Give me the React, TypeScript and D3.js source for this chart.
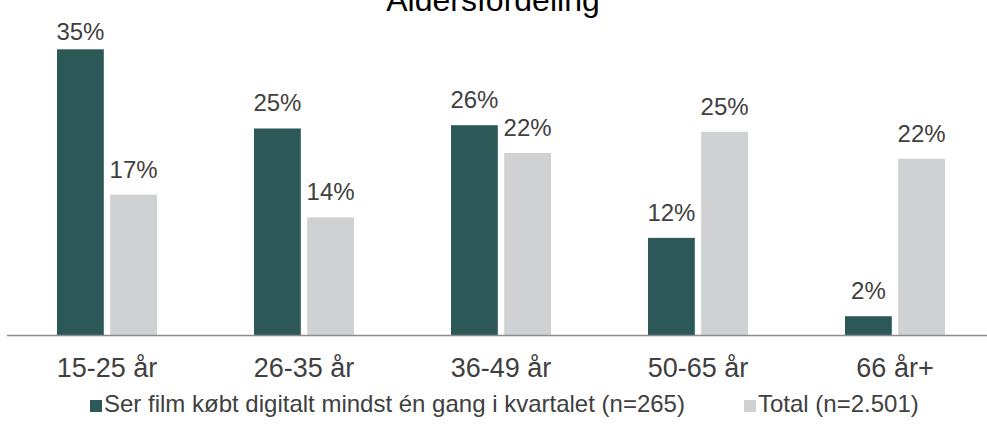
import React from "react";
import * as d3 from "d3";

const title = "Aldersfordeling";
const categories = ["15-25 år", "26-35 år", "36-49 år", "50-65 år", "66 år+"];
const seriesNames = ["Ser film købt digitalt mindst én gang i kvartalet (n=265)", "Total (n=2.501)"];
const digitalValues = [35.0, 25.3, 25.7, 11.9, 2.3];
const totalValues = [17.2, 14.4, 22.3, 24.9, 21.6];
const colors = ["#2C5858", "#D0D1D3"];

const W = 987;
const H = 433;
const FONT = "'Liberation Sans', Arial, sans-serif";

export default function App() {
  const baseY = 335;
  const x = d3.scaleBand<string>().domain(categories).range([8.5, 993.5]).padding(0);
  const y = d3.scaleLinear().domain([0, 40]).range([baseY, 8.5]);
  const inner = d3.scaleBand<number>().domain([0, 1]).range([-50, 50]).paddingInner(0.12);
  const series = [digitalValues, totalValues];
  const fmt = (v: number) => `${Math.round(v)}%`;

  const legendItems = [
    { x: 90, name: seriesNames[0], color: colors[0] },
    { x: 744, name: seriesNames[1], color: colors[1] },
  ];

  return (
    <svg width={W} height={H} style={{ position: "absolute", left: 0, top: 0, display: "block" }}>
      <rect width={W} height={H} fill="#fff" />
      <text x={493} y={10.5} textAnchor="middle" fontFamily={FONT} fontSize={32} fill="#000">
        {title}
      </text>
      {categories.map((c, i) => {
        const cx = (x(c) as number) + x.bandwidth() / 2;
        return (
          <g key={c}>
            {series.map((vals, s) => {
              const v = vals[i];
              const bx = cx + (inner(s) as number);
              const top = y(v);
              return (
                <g key={s}>
                  <rect x={bx} y={top} width={inner.bandwidth()} height={baseY - top} fill={colors[s]} />
                  <text
                    x={bx + inner.bandwidth() / 2}
                    y={Math.max(top - 17, 40)}
                    textAnchor="middle"
                    fontFamily={FONT}
                    fontSize={24}
                    fill="#404040"
                  >
                    {fmt(v)}
                  </text>
                </g>
              );
            })}
            <text x={cx} y={376.5} textAnchor="middle" fontFamily={FONT} fontSize={27} fill="#404040">
              {c}
            </text>
          </g>
        );
      })}
      <line x1={7} x2={W} y1={baseY + 0.5} y2={baseY + 0.5} stroke="#8C8C8C" strokeWidth={1.5} />
      {legendItems.map((it) => (
        <g key={it.name}>
          <rect x={it.x} y={400} width={12} height={12} fill={it.color} />
          <text x={it.x + 14} y={412} fontFamily={FONT} fontSize={24} fill="#404040">
            {it.name}
          </text>
        </g>
      ))}
    </svg>
  );
}
